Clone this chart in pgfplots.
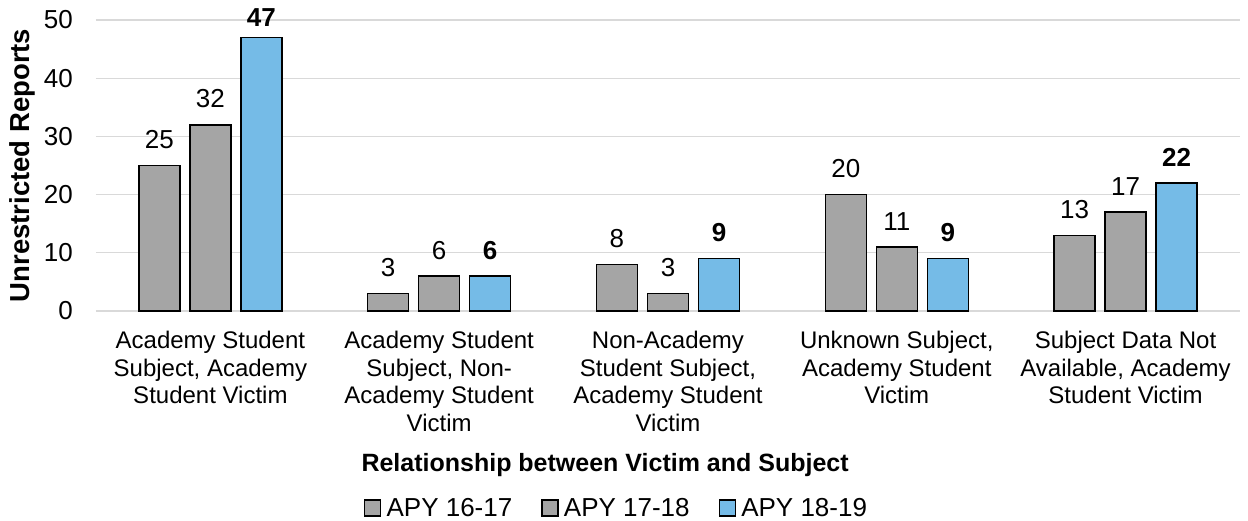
\documentclass[border=0pt]{standalone}
\usepackage{pgfplots}
\usepackage{pgfplotstable}
\pgfplotsset{compat=1.18}
\usepackage{fontspec}
\setmainfont{Liberation Sans}
\definecolor{bargray}{HTML}{A5A5A5}
\definecolor{barblue}{HTML}{75BBE7}
\definecolor{gridgray}{HTML}{D9D9D9}
\newcommand{\cf}{\fontsize{24}{27.6}\selectfont}
\newcommand{\tf}{\fontsize{26}{30}\selectfont}
\newcommand{\lf}{\fontsize{25}{30}\selectfont}
\newcommand{\yf}{\fontsize{27.5}{30}\selectfont}
\pgfplotstableread{
x y off
0 25 16
1 3 16
2 8 16
3 20 16
4 13 16
}\apyA
\pgfplotstableread{
x y off
0 32 16
1 6 16
2 3 16
3 11 16
4 17 16
}\apyB
\pgfplotstableread{
x y off
0 47 10
1 6 16
2 9 16
3 9 16
4 22 16
}\apyC
\begin{document}
\begin{tikzpicture}
\path[use as bounding box] (-96pt,-209pt) rectangle (1152pt,311pt);
\begin{axis}[
  at={(0pt,0pt)}, anchor=south west,
  scale only axis,
  width=1144pt, height=291pt,
  xmin=-0.5, xmax=4.5, ymin=0, ymax=50,
  ytick={0,10,20,30,40,50},
  xtick={0,1,2,3,4},
  xticklabels={{Academy Student\\Subject, Academy\\Student Victim},
               {Academy Student\\Subject, Non-\\Academy Student\\Victim},
               {Non-Academy\\Student Subject,\\Academy Student\\Victim},
               {Unknown Subject,\\Academy Student\\Victim},
               {Subject Data Not\\Available, Academy\\Student Victim}},
  axis line style={draw=none},
  major tick length=0pt,
  ymajorgrids, grid style={gridgray, line width=1.3pt},
  /pgf/number format/assume math mode=true,
  x tick label style={font=\cf, align=center, anchor=north, inner sep=0pt, yshift=-20pt},
  y tick label style={font=\tf, anchor=east, inner sep=0pt, xshift=-23pt},
  xlabel={\textbf{Relationship between Victim and Subject}},
  ylabel={\textbf{Unrestricted Reports}},
  x label style={font=\lf, at={(axis description cs:0.445,-0.529)}, anchor=center},
  y label style={font=\yf, at={(axis description cs:-0.0647,0.5)}, anchor=center},
  ybar, bar width=41pt,
  legend style={font=\tf, draw=none, fill=none, at={(axis description cs:0.455,-0.677)}, anchor=center,
     legend columns=-1, /tikz/every even column/.append style={column sep=27pt}},
  legend image code/.code={\draw[#1,line width=1.2pt] (0pt,-8pt) rectangle (16pt,8pt); \path[draw=none,fill=none] (0pt,0pt) -- (20pt,0pt);},
  nodes near coords,
  visualization depends on={\thisrow{off} \as \off},
  every node near coord/.append style={font=\tf, anchor=south, inner sep=0pt, yshift=\off pt, black},
]
\addplot[fill=bargray, draw=black, line width=1.5pt, bar shift=-51pt] table[x=x,y=y] {\apyA};
\addplot[fill=bargray, draw=black, line width=1.5pt, bar shift=0pt] table[x=x,y=y] {\apyB};
\addplot[fill=barblue, draw=black, line width=1.5pt, bar shift=51pt,
   every node near coord/.append style={font=\tf\bfseries}] table[x=x,y=y] {\apyC};
\legend{APY 16-17, APY 17-18, APY 18-19}
\end{axis}
\end{tikzpicture}
\end{document}
